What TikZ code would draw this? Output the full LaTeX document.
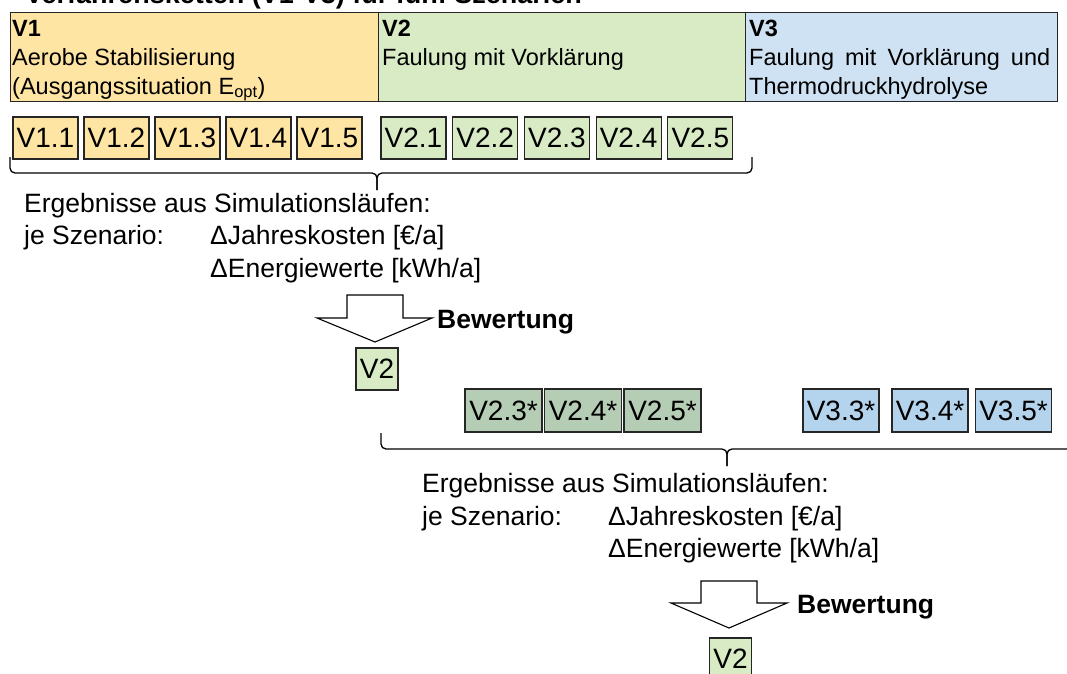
\documentclass[tikz,border=0pt]{standalone}
\usepackage{fontspec}
\setmainfont{Liberation Sans}
\definecolor{vorange}{HTML}{FFE5A3}
\definecolor{vgreen}{HTML}{D8EBC4}
\definecolor{vblue}{HTML}{CFE2F3}
\definecolor{vgreendk}{HTML}{B5CDB5}
\definecolor{vbluedk}{HTML}{B4D3EC}
\definecolor{edge}{HTML}{262626}
\begin{document}
\begin{tikzpicture}[x=1pt,y=-1pt,
  cell/.style={draw=edge, line width=1.3pt, anchor=north west, inner sep=0pt,
    minimum height=89pt},
  celltext/.style={anchor=base west, inner sep=0pt, font=\fontsize{23.5}{27}\selectfont},
  cellhead/.style={celltext, font=\bfseries\fontsize{23.5}{27}\selectfont},
  vbox/.style={draw=edge, line width=1.1pt, inner sep=0pt, minimum height=42pt,
    minimum width=65pt, font=\fontsize{28}{30}\selectfont},
  starbox/.style={vbox, minimum height=43pt, minimum width=76pt},
  resbox/.style={vbox, minimum width=42pt},
  body/.style={anchor=base west, inner sep=0pt, font=\fontsize{26.5}{30}\selectfont},
  bold/.style={body, font=\bfseries\fontsize{26.5}{30}\selectfont},
  brace/.style={draw=black, line width=1.3pt, rounded corners=5pt},
  blockarrow/.style={draw=black, line width=1.1pt, fill=white, line join=miter}
]
\useasboundingbox (0,0) rectangle (1067,673);
\clip (0,0) rectangle (1067,673);

% heading line (runs off the top edge)
\node[anchor=base west, inner sep=0pt, font=\bfseries\fontsize{27}{30}\selectfont]
  (title) at (25,3) {Verfahrensketten (V1-V3) für fünf Szenarien};

% process chain table
\node[cell, fill=vorange, minimum width=368pt] (h1) at (10,12) {};
\node[cell, fill=vgreen,  minimum width=367pt] (h2) at (378,12) {};
\node[cell, fill=vblue,   minimum width=312pt] (h3) at (745,12) {};

\node[cellhead] (h1a) at (12,36) {V1};
\node[celltext] (h1b) at (12,65) {Aerobe Stabilisierung};
\node[celltext] (h1c) at (12,94) {(Ausgangssituation E\textsubscript{opt})};
\node[cellhead] (h2a) at (382,36) {V2};
\node[celltext] (h2b) at (382,65) {Faulung mit Vorklärung};
\node[cellhead] (h3a) at (749,36) {V3};
\node[celltext] (h3b) at (749,65) {\makebox[301pt][s]{Faulung mit Vorklärung und}};
\node[celltext] (h3c) at (749,94) {Thermodruckhydrolyse};

% scenario boxes, first run
\foreach \i in {1,...,5} {
  \node[vbox, fill=vorange] (a\i) at ({45.5+71*(\i-1)},138) {V1.\i};
  \node[vbox, fill=vgreen]  (b\i) at ({413.5+71.7*(\i-1)},138) {V2.\i};
}

% brace below the first run
\coordinate (b1l) at (10,157);
\coordinate (b1r) at (752,157);
\coordinate (b1m) at (377,173);
\coordinate (b1t) at (377,190);
\draw[brace] (b1l) -- (b1l |- b1m) -- (b1m) -- (b1t);
\draw[brace] (b1r) -- (b1r |- b1m) -- (b1m) -- (b1t);

\node[body] (r1a) at (24,212) {Ergebnisse aus Simulationsläufen:};
\node[body] (r1b) at (24,244.5) {je Szenario:};
\node[body] (r1c) at (210,244.5) {ΔJahreskosten [€/a]};
\node[body] (r1d) at (210,277) {ΔEnergiewerte [kWh/a]};

% first evaluation
\draw[blockarrow] (347,295) -- (403,295) -- (403,318) -- (432,318) -- (375,342)
  -- (317,318) -- (347,318) -- cycle;
\node[bold] (e1) at (437,328) {Bewertung};
\node[resbox, fill=vgreen] (w1) at (377,369) {V2};

% scenario boxes, second run
\node[starbox, fill=vgreendk, minimum width=77pt] (c3) at (503.5,410.5) {V2.3*};
\node[starbox, fill=vgreendk, minimum width=77pt] (c4) at (583,410.5) {V2.4*};
\node[starbox, fill=vgreendk, minimum width=77pt] (c5) at (662.5,410.5) {V2.5*};
\node[starbox, fill=vbluedk] (d3) at (841,410.5) {V3.3*};
\node[starbox, fill=vbluedk] (d4) at (930,410.5) {V3.4*};
\node[starbox, fill=vbluedk] (d5) at (1013.5,410.5) {V3.5*};

% brace below the second run
\coordinate (b2l) at (381,433);
\coordinate (b2r) at (1080,449);
\coordinate (b2m) at (727,449);
\coordinate (b2t) at (727,466);
\draw[brace] (b2l) -- (b2l |- b2m) -- (b2m) -- (b2t);
\draw[brace] (b2r) -- (b2m) -- (b2t);

\node[body] (r2a) at (422,492) {Ergebnisse aus Simulationsläufen:};
\node[body] (r2b) at (422,525) {je Szenario:};
\node[body] (r2c) at (608,525) {ΔJahreskosten [€/a]};
\node[body] (r2d) at (608,557) {ΔEnergiewerte [kWh/a]};

% second evaluation
\draw[blockarrow] (701,581) -- (757,581) -- (757,603) -- (787,603) -- (729,628)
  -- (671,603) -- (701,603) -- cycle;
\node[bold] (e2) at (797,613) {Bewertung};
\node[resbox, fill=vgreen] (w2) at (730.5,659) {V2};
\end{tikzpicture}
\end{document}
